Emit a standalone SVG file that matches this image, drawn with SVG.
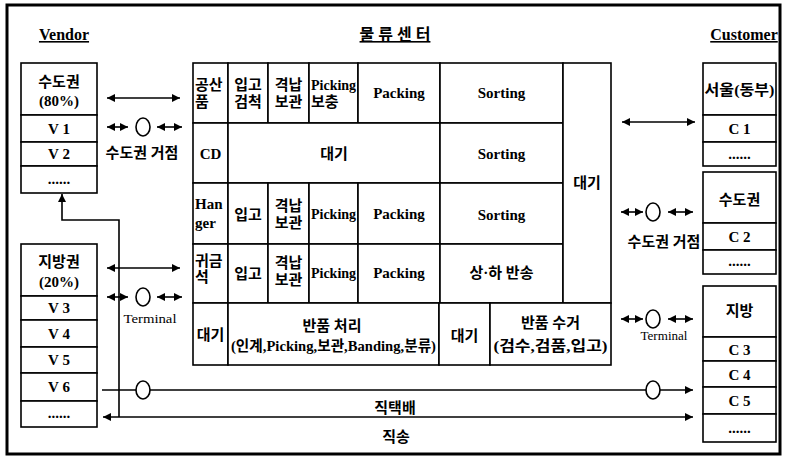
<svg xmlns="http://www.w3.org/2000/svg" width="785" height="459" viewBox="0 0 785 459">
<defs>
<style>
.bg{fill:#fff}
.frame{fill:none;stroke:#000;stroke-width:3}
.c{fill:#fff;stroke:#000;stroke-width:1.6}
.ln{fill:none;stroke:#000;stroke-width:1.6}
.circ{fill:#fff;stroke:#000;stroke-width:1.6}
text{font-family:"Liberation Serif","Noto Sans CJK KR",serif;font-weight:bold;fill:#000;font-size:15px;text-anchor:middle}
.k{font-size:15px}
.s{text-anchor:start}
.h{font-size:16px;text-decoration:underline}
.pk{font-size:14px}
.sm{font-size:13px;font-weight:normal}
</style>
<marker id="ah" viewBox="0 0 10 10" refX="10" refY="5" markerWidth="9" markerHeight="8" markerUnits="userSpaceOnUse" orient="auto-start-reverse"><path d="M0,0 L10,5 L0,10 z"/></marker>
<marker id="as" viewBox="0 0 10 10" refX="10" refY="5" markerWidth="8" markerHeight="8" markerUnits="userSpaceOnUse" orient="auto-start-reverse"><path d="M0,0 L10,5 L0,10 z"/></marker>
</defs>
<rect class="bg" x="0" y="0" width="785" height="459"/>
<rect class="frame" x="7" y="5" width="773" height="449"/>

<g id="titles">
<text class="h" x="64" y="40">Vendor</text>
<text class="h k" x="395" y="40">물 류 센 터</text>
<text class="h" x="744" y="40">Customer</text>
</g>

<g id="vendor-capital">
<rect class="c" x="21" y="63" width="76" height="52"/>
<rect class="c" x="21" y="115" width="76" height="27"/>
<rect class="c" x="21" y="142" width="76" height="24"/>
<rect class="c" x="21" y="166" width="76" height="27"/>
<text class="k" x="59" y="87">수도권</text>
<text class="k" x="59" y="106">(80%)</text>
<text x="59" y="134">V 1</text>
<text x="59" y="159">V 2</text>
<text x="59" y="184">......</text>
</g>

<g id="vendor-local">
<rect class="c" x="21" y="244" width="76" height="52"/>
<rect class="c" x="21" y="296" width="76" height="24"/>
<rect class="c" x="21" y="320" width="76" height="27"/>
<rect class="c" x="21" y="347" width="76" height="26"/>
<rect class="c" x="21" y="373" width="76" height="28"/>
<rect class="c" x="21" y="401" width="76" height="26"/>
<text class="k" x="59" y="267">지방권</text>
<text class="k" x="59" y="287">(20%)</text>
<text x="59" y="313">V 3</text>
<text x="59" y="339">V 4</text>
<text x="59" y="365">V 5</text>
<text x="59" y="392">V 6</text>
<text x="59" y="418">......</text>
</g>

<g id="center">
<g id="row1">
<rect class="c" x="193" y="63" width="35" height="60"/>
<rect class="c" x="228" y="63" width="40" height="60"/>
<rect class="c" x="268" y="63" width="41" height="60"/>
<rect class="c" x="309" y="63" width="49" height="60"/>
<rect class="c" x="358" y="63" width="82" height="60"/>
<rect class="c" x="440" y="63" width="123" height="60"/>
<text class="k s" x="195" y="90">공산</text>
<text class="k s" x="195" y="107">품</text>
<text class="k" x="248" y="90">입고</text>
<text class="k" x="248" y="107">검척</text>
<text class="k" x="288.5" y="90">격납</text>
<text class="k" x="288.5" y="107">보관</text>
<text class="pk s" x="311" y="90">Picking</text>
<text class="k s" x="311" y="107">보충</text>
<text x="399" y="98">Packing</text>
<text x="501.5" y="98">Sorting</text>
</g>
<g id="row2">
<rect class="c" x="193" y="123" width="35" height="60"/>
<rect class="c" x="228" y="123" width="212" height="60"/>
<rect class="c" x="440" y="123" width="123" height="60"/>
<text x="210.5" y="159">CD</text>
<text class="k" x="334" y="159">대기</text>
<text x="501.5" y="159">Sorting</text>
</g>
<g id="row3">
<rect class="c" x="193" y="183" width="35" height="61"/>
<rect class="c" x="228" y="183" width="40" height="61"/>
<rect class="c" x="268" y="183" width="41" height="61"/>
<rect class="c" x="309" y="183" width="49" height="61"/>
<rect class="c" x="358" y="183" width="82" height="61"/>
<rect class="c" x="440" y="183" width="123" height="61"/>
<text class="s" x="195" y="209">Han</text>
<text class="s" x="195" y="228">ger</text>
<text class="k" x="248" y="220">입고</text>
<text class="k" x="288.5" y="211">격납</text>
<text class="k" x="288.5" y="228">보관</text>
<text class="pk" x="333.5" y="219">Picking</text>
<text x="399" y="219">Packing</text>
<text x="501.5" y="220">Sorting</text>
</g>
<g id="row4">
<rect class="c" x="193" y="244" width="35" height="59"/>
<rect class="c" x="228" y="244" width="40" height="59"/>
<rect class="c" x="268" y="244" width="41" height="59"/>
<rect class="c" x="309" y="244" width="49" height="59"/>
<rect class="c" x="358" y="244" width="82" height="59"/>
<rect class="c" x="440" y="244" width="123" height="59"/>
<text class="k s" x="195" y="266">귀금</text>
<text class="k s" x="195" y="282">석</text>
<text class="k" x="248" y="279">입고</text>
<text class="k" x="288.5" y="268">격납</text>
<text class="k" x="288.5" y="285">보관</text>
<text class="pk" x="333.5" y="278">Picking</text>
<text x="399" y="278">Packing</text>
<text class="k" x="501.5" y="278">상·하 반송</text>
</g>
<g id="wait-col">
<rect class="c" x="563" y="63" width="48" height="240"/>
<text class="k" x="587" y="188">대기</text>
</g>
<g id="row5">
<rect class="c" x="193" y="303" width="35" height="62"/>
<rect class="c" x="228" y="303" width="211" height="62"/>
<rect class="c" x="439" y="303" width="51" height="62"/>
<rect class="c" x="490" y="303" width="121" height="62"/>
<text class="k" x="210.5" y="340">대기</text>
<text class="k" x="332" y="331">반품 처리</text>
<text x="333.5" y="351" textLength="205" lengthAdjust="spacingAndGlyphs">(인계,Picking,보관,Banding,분류)</text>
<text class="k" x="464.5" y="341">대기</text>
<text class="k" x="550.5" y="328">반품 수거</text>
<text class="k" x="550.5" y="351" textLength="114" lengthAdjust="spacingAndGlyphs">(검수,검품,입고)</text>
</g>
</g>

<g id="customer-seoul">
<rect class="c" x="703" y="63" width="73" height="52"/>
<rect class="c" x="703" y="115" width="73" height="27"/>
<rect class="c" x="703" y="142" width="73" height="24"/>
<text class="k" x="739.5" y="95" textLength="70" lengthAdjust="spacingAndGlyphs">서울(동부)</text>
<text x="739.5" y="134">C 1</text>
<text x="739.5" y="159">......</text>
</g>

<g id="customer-capital">
<rect class="c" x="703" y="172" width="73" height="51"/>
<rect class="c" x="703" y="223" width="73" height="27"/>
<rect class="c" x="703" y="250" width="73" height="24"/>
<text class="k" x="739.5" y="205">수도권</text>
<text x="739.5" y="242">C 2</text>
<text x="739.5" y="266">......</text>
</g>

<g id="customer-local">
<rect class="c" x="703" y="286" width="73" height="51"/>
<rect class="c" x="703" y="337" width="73" height="24"/>
<rect class="c" x="703" y="361" width="73" height="26"/>
<rect class="c" x="703" y="387" width="73" height="27"/>
<rect class="c" x="703" y="414" width="73" height="28"/>
<text class="k" x="739.5" y="316">지방</text>
<text x="739.5" y="355">C 3</text>
<text x="739.5" y="380">C 4</text>
<text x="739.5" y="406">C 5</text>
<text x="739.5" y="433">......</text>
</g>

<g id="connectors">
<line class="ln" x1="107" y1="98" x2="180" y2="98" marker-start="url(#ah)" marker-end="url(#ah)"/>
<line class="ln" x1="107" y1="127" x2="128" y2="127" marker-start="url(#as)" marker-end="url(#as)"/>
<line class="ln" x1="157" y1="127" x2="182" y2="127" marker-start="url(#as)" marker-end="url(#as)"/>
<ellipse class="circ" cx="143" cy="127" rx="7" ry="9"/>
<line class="ln" x1="107" y1="268" x2="180" y2="268" marker-start="url(#ah)" marker-end="url(#ah)"/>
<line class="ln" x1="107" y1="297" x2="128" y2="297" marker-start="url(#as)" marker-end="url(#as)"/>
<line class="ln" x1="157" y1="297" x2="182" y2="297" marker-start="url(#as)" marker-end="url(#as)"/>
<ellipse class="circ" cx="143" cy="297" rx="7" ry="9"/>
<line class="ln" x1="622" y1="122" x2="695" y2="122" marker-start="url(#ah)" marker-end="url(#ah)"/>
<line class="ln" x1="621" y1="212" x2="643" y2="212" marker-start="url(#as)" marker-end="url(#as)"/>
<line class="ln" x1="668" y1="212" x2="693" y2="212" marker-start="url(#as)" marker-end="url(#as)"/>
<ellipse class="circ" cx="653" cy="212" rx="7" ry="9"/>
<line class="ln" x1="621" y1="319" x2="643" y2="319" marker-start="url(#as)" marker-end="url(#as)"/>
<line class="ln" x1="668" y1="319" x2="693" y2="319" marker-start="url(#as)" marker-end="url(#as)"/>
<ellipse class="circ" cx="653" cy="319" rx="7" ry="9"/>
<line class="ln" x1="102" y1="390" x2="693" y2="390" marker-end="url(#ah)"/>
<ellipse class="circ" cx="143" cy="390" rx="7" ry="9"/>
<ellipse class="circ" cx="653" cy="390" rx="7" ry="9"/>
<line class="ln" x1="103" y1="417" x2="693" y2="417" marker-start="url(#ah)" marker-end="url(#ah)"/>
<polyline class="ln" points="119,417 119,220 62,220 62,194" marker-end="url(#ah)"/>
<text class="k" x="142" y="158">수도권 거점</text>
<text class="sm" x="150" y="323" textLength="53" lengthAdjust="spacingAndGlyphs">Terminal</text>
<text class="k" x="664" y="247">수도권 거점</text>
<text class="sm" x="664" y="340" textLength="47" lengthAdjust="spacingAndGlyphs">Terminal</text>
<text class="k" x="395" y="413">직택배</text>
<text class="k" x="396" y="442">직송</text>
</g>
</svg>
